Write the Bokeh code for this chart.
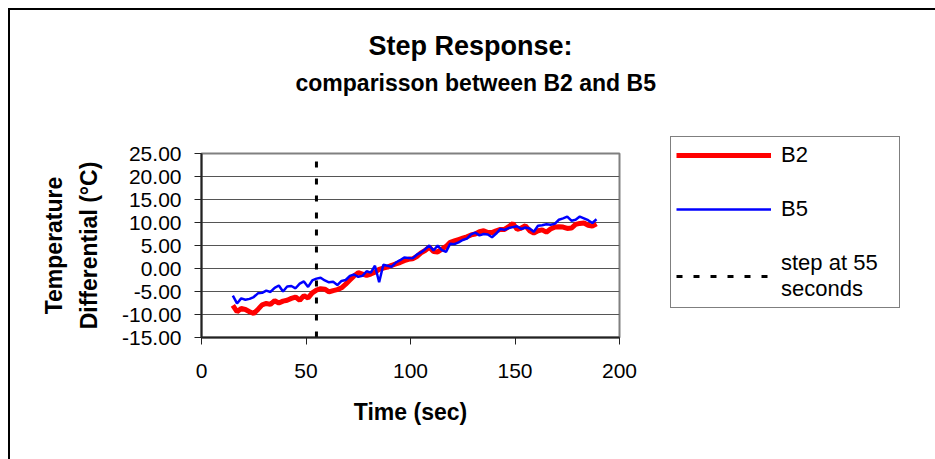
from bokeh.plotting import figure
from bokeh.models import (LinearAxis, Legend, LegendItem, Title, FixedTicker,
                          NumeralTickFormatter, Range1d)
from bokeh.embed import file_html
from bokeh.resources import INLINE

# ---- data ----
TIME = list(range(15, 190, 2))
B2 = [-8.0, -9.4, -8.7, -8.9, -9.4, -9.8, -8.9, -7.9, -7.6, -7.8,
      -7.0, -7.5, -7.1, -6.9, -6.5, -6.2, -6.9, -5.9, -6.4, -5.3,
      -4.7, -4.4, -4.5, -5.1, -4.8, -4.6, -4.2, -3.4, -2.5, -1.6,
      -0.9, -1.2, -1.5, -1.2, -0.8, -0.2, 0.1, 0.3, 0.7, 1.0,
      1.3, 1.7, 2.0, 2.1, 2.6, 3.4, 3.9, 4.6, 3.7, 3.6,
      4.2, 4.8, 5.7, 6.0, 6.3, 6.6, 6.9, 7.3, 7.5, 8.0,
      8.2, 7.8, 7.8, 8.2, 8.5, 8.5, 9.1, 9.8, 8.5, 8.8,
      9.3, 8.2, 7.7, 8.2, 8.4, 7.9, 8.6, 9.0, 9.1, 9.0,
      8.7, 8.8, 9.6, 9.8, 9.9, 9.4, 9.2, 9.7]
B5 = [-5.9, -7.6, -6.5, -6.8, -6.6, -6.2, -5.4, -5.3, -4.8, -5.1,
      -4.2, -3.7, -5.0, -3.9, -3.8, -4.3, -3.3, -2.8, -4.0, -2.6,
      -2.2, -2.0, -2.6, -3.0, -2.9, -3.6, -2.7, -2.5, -1.6, -1.3,
      -1.8, -1.6, -0.6, -0.9, 0.6, -3.0, 0.8, 0.6, 0.4, 1.3,
      1.8, 2.4, 2.3, 2.2, 3.0, 3.5, 4.2, 5.0, 3.9, 5.0,
      4.0, 3.6, 5.4, 5.3, 5.7, 6.2, 6.5, 7.4, 7.8, 7.2,
      7.5, 7.4, 6.8, 7.6, 8.6, 8.4, 8.8, 9.0, 9.2, 8.6,
      8.9, 8.7, 8.0, 9.3, 9.4, 9.6, 9.5, 9.7, 10.6, 10.9,
      11.3, 10.4, 10.6, 11.3, 10.9, 10.5, 9.9, 10.7]
STEP_TIME = 55
X_MIN, X_MAX = 0, 200
Y_MIN, Y_MAX = -15, 25
X_TICKS = [0, 50, 100, 150, 200]
Y_TICKS = [-15, -10, -5, 0, 5, 10, 15, 20, 25]

FONT = "Liberation Sans"

p = figure(frame_width=418, frame_height=184,
           min_border_left=191, min_border_right=308,
           min_border_top=143, min_border_bottom=122,
           x_range=Range1d(X_MIN, X_MAX), y_range=Range1d(Y_MIN, Y_MAX),
           output_backend="svg", toolbar_location=None, title=None)
p.styles = {"margin-left": "8px", "margin-top": "8px",
            "border-left": "2px solid black", "border-top": "2px solid black",
            "border-right": "2px solid black"}

p.background_fill_color = "white"
p.border_fill_color = "white"
p.outline_line_color = "#808080"
p.outline_line_width = 2

p.xgrid.grid_line_color = None
p.ygrid.grid_line_color = "#555555"
p.ygrid.grid_line_width = 1
p.ygrid.ticker = FixedTicker(ticks=Y_TICKS)

for ax in (p.xaxis[0], p.yaxis[0]):
    ax.axis_line_color = "#222222"
    ax.axis_line_width = 2
    ax.major_tick_line_color = "#222222"
    ax.major_tick_in = 0
    ax.major_tick_out = 7
    ax.minor_tick_line_color = None
    ax.major_label_text_font = FONT
    ax.major_label_text_font_size = "21px"
    ax.major_label_text_color = "black"
    ax.axis_label_text_font = FONT
    ax.axis_label_text_font_size = "23px"
    ax.axis_label_text_font_style = "bold"
    ax.axis_label_text_color = "black"

p.xaxis.ticker = FixedTicker(ticks=X_TICKS)
p.xaxis.major_label_standoff = 19
p.xaxis.axis_label = "Time (sec)"
p.xaxis.axis_label_standoff = 18

p.yaxis.ticker = FixedTicker(ticks=Y_TICKS)
p.yaxis.major_label_standoff = 13
p.yaxis.formatter = NumeralTickFormatter(format="0.00")
p.yaxis.axis_label = "Differential (°C)"
p.yaxis.axis_label_standoff = 17

# second left axis carrying the first line of the y label
ax2 = LinearAxis(ticker=FixedTicker(ticks=[]), axis_label="Temperature",
                 axis_line_color=None, major_tick_line_color=None,
                 minor_tick_line_color=None, axis_label_standoff=6,
                 axis_label_text_font=FONT, axis_label_text_font_size="23px",
                 axis_label_text_font_style="bold", axis_label_text_color="black")
p.add_layout(ax2, "left")

r2 = p.line(TIME, B2, line_color="#ff0000", line_width=5)
r5 = p.line(TIME, B5, line_color="#0000ff", line_width=2.5)
rs = p.line([STEP_TIME, STEP_TIME], [Y_MIN, Y_MAX], line_color="black",
            line_width=3, line_dash="6 11")

legend = Legend(items=[LegendItem(label="B2", renderers=[r2]),
                       LegendItem(label="B5", renderers=[r5]),
                       LegendItem(label="step at 55\nseconds", renderers=[rs])],
                location=(51, 29), padding=5, spacing=28, margin=0,
                glyph_width=95, glyph_height=20, label_standoff=10,
                label_width=113, label_text_font=FONT,
                label_text_font_size="22px", label_text_color="black",
                border_line_color="black", border_line_width=1,
                background_fill_color="white", background_fill_alpha=1)
p.add_layout(legend, "right")

# spacer between the frame and the subtitle
spacer = Title(text=" ", text_font_size="1px", standoff=52)
p.add_layout(spacer, "above")
sub = Title(text="comparisson between B2 and B5", align="left", offset=94,
            text_font=FONT, text_font_size="23px", text_font_style="bold",
            text_color="black", standoff=6)
p.add_layout(sub, "above")
main = Title(text="Step Response:", align="left", offset=167,
             text_font=FONT, text_font_size="27px", text_font_style="bold",
             text_color="black", standoff=8)
p.add_layout(main, "above")

open("out.html", "w").write(file_html(p, INLINE))
